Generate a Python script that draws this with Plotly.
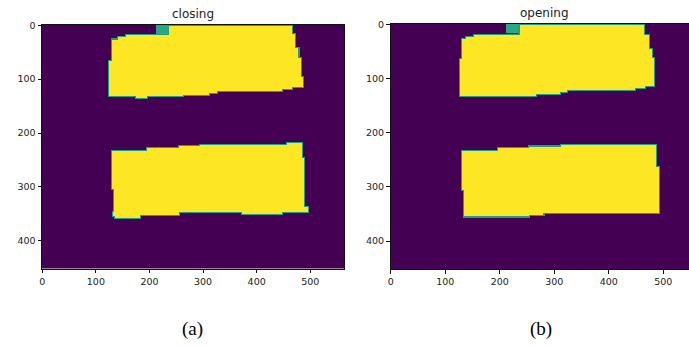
import numpy as np
import plotly.graph_objects as go

# ---------------- data ----------------
IMG_W = 564
IMG_H = 452

titles = ["closing", "opening"]
captions = ["(a)", "(b)"]
x_ticks = [0, 100, 200, 300, 400, 500]
y_ticks = [0, 100, 200, 300, 400]

# region outlines (x, y) in image pixel coordinates
closing_top = [(235, 0), (468, 0), (468, 15), (474, 15), (474, 40), (481, 40), (481, 60),
               (485, 60), (485, 95), (489, 95), (489, 116), (468, 116), (468, 121), (450, 121),
               (450, 124), (328, 124), (328, 128), (313, 128), (313, 131), (266, 131),
               (266, 133), (198, 133), (198, 137), (173, 137), (173, 133), (124, 133),
               (124, 65), (128, 65), (128, 25), (140, 25), (140, 20), (155, 20), (155, 16),
               (235, 16)]
closing_bottom = [(128, 231), (195, 231), (195, 226), (254, 226), (254, 223), (294, 223),
                  (294, 220), (456, 220), (456, 217), (488, 217), (488, 245), (492, 245),
                  (492, 335), (499, 335), (499, 348), (450, 348), (450, 352), (372, 352),
                  (372, 349), (257, 349), (257, 354), (185, 354), (185, 359), (135, 359),
                  (135, 355), (130, 355), (130, 345), (132, 345), (132, 305), (128, 305)]
opening_top = [(235, 0), (468, 0), (468, 18), (476, 18), (476, 45), (482, 45), (482, 60),
               (486, 60), (486, 116), (470, 116), (470, 120), (451, 120), (451, 123),
               (327, 123), (327, 127), (314, 127), (314, 131), (270, 131), (270, 133.5),
               (125, 133.5), (125, 63), (129, 63), (129, 24.5), (136, 24.5), (136, 22),
               (151.5, 22), (151.5, 17.5), (235, 17.5)]
opening_bottom = [(129, 231.5), (196, 231.5), (196, 227), (252, 227), (252, 224), (311, 224),
                  (311, 220.5), (490, 220.5), (490, 262), (495, 262), (495, 350), (283, 350),
                  (283, 354), (257, 354), (257, 357), (133, 357), (133, 308), (129, 308)]

# small second-label patch at the top edge: (x0, x1, y0, y1)
closing_patch = (213, 235, 0, 16)
opening_patch = (213, 235, 0, 16)

REGION_VALUE = 1.0
PATCH_VALUE = 0.6
EDGE_VALUE = 0.55

# ---------------- build masks ----------------
yy, xx = np.mgrid[0:IMG_H, 0:IMG_W].astype(float)


def poly_mask(pts):
    inside = np.zeros((IMG_H, IMG_W), dtype=bool)
    n = len(pts)
    for k in range(n):
        x1, y1 = pts[k]
        x2, y2 = pts[(k + 1) % n]
        if y1 == y2:
            continue
        cond = (yy >= min(y1, y2)) & (yy < max(y1, y2))
        xint = x1 + (yy - y1) * (x2 - x1) / (y2 - y1)
        inside ^= cond & (xx < xint)
    return inside


def erode(m, r):
    out = m.copy()
    for dy in range(-r, r + 1):
        for dx in range(-r, r + 1):
            s = np.roll(np.roll(m, dy, axis=0), dx, axis=1)
            out &= s
    return out


def build(polys, patch):
    m = np.zeros((IMG_H, IMG_W), dtype=bool)
    for p in polys:
        m |= poly_mask(p)
    z = np.where(m, REGION_VALUE, 0.0)
    ring = m & ~erode(m, 2)
    z[ring] = EDGE_VALUE
    x0, x1, y0, y1 = patch
    pm = (xx >= x0) & (xx < x1) & (yy >= y0) & (yy < y1)
    z[pm] = PATCH_VALUE
    return np.round(z, 2)


z_closing = build([closing_top, closing_bottom], closing_patch)
z_opening = build([opening_top, opening_bottom], opening_patch)

# ---------------- figure ----------------
W, H = 689, 346
fig = go.Figure()
for z, xa, ya in [(z_closing, "x", "y"), (z_opening, "x2", "y2")]:
    fig.add_trace(go.Heatmap(z=z, x0=0, dx=1, y0=0, dy=1, colorscale="Viridis",
                             zmin=0, zmax=1, showscale=False, zsmooth=False,
                             xaxis=xa, yaxis=ya, hoverinfo="skip"))

# pixel geometry of the two panels
L = dict(l=42.0, r=344.3, t=25.0, b=268.6)
R = dict(l=390.5, r=697.8, t=24.0, b=269.0)

tickfont = dict(family="DejaVu Sans", size=9.5, color="#222")
axis_common = dict(showgrid=False, zeroline=False, showline=True, linecolor="#111",
                   linewidth=1, ticks="outside", ticklen=3.5, tickwidth=0.8,
                   tickcolor="#111", tickfont=tickfont, automargin=False)

x2_end = -0.5 + (W - R["l"]) / ((R["r"] - R["l"]) / IMG_W)

fig.update_layout(
    width=W, height=H, margin=dict(l=0, r=0, t=0, b=0, pad=0, autoexpand=False),
    paper_bgcolor="white", plot_bgcolor="white", showlegend=False,
    xaxis=dict(domain=[L["l"] / W, L["r"] / W], range=[-0.5, IMG_W - 0.5],
               tickvals=x_ticks, mirror=True, anchor="y", **axis_common),
    yaxis=dict(domain=[1 - L["b"] / H, 1 - L["t"] / H], range=[IMG_H - 0.5, -0.5],
               tickvals=y_ticks, mirror=True, anchor="x", **axis_common),
    xaxis2=dict(domain=[R["l"] / W, 1.0], range=[-0.5, x2_end],
                tickvals=x_ticks, mirror=True, anchor="y2", **axis_common),
    yaxis2=dict(domain=[1 - R["b"] / H, 1 - R["t"] / H], range=[IMG_H - 0.5, -0.5],
                tickvals=y_ticks, mirror=False, anchor="x2", **axis_common),
)

annotations = []
for title, pan in zip(titles, [L, R]):
    annotations.append(dict(text=title, x=(pan["l"] + pan["r"]) / 2 / W,
                            y=1 - (pan["t"] - 2) / H, xref="paper", yref="paper",
                            xanchor="center", yanchor="bottom", showarrow=False,
                            font=dict(family="DejaVu Sans", size=12, color="#222")))
for cap, cx in zip(captions, [192, 541]):
    annotations.append(dict(text=cap, x=cx / W, y=1 - 329 / H, xref="paper", yref="paper",
                            xanchor="center", yanchor="middle", showarrow=False,
                            font=dict(family="Liberation Serif", size=19, color="black")))
fig.update_layout(annotations=annotations)

fig.write_html("out.html", config={"displayModeBar": False},
               post_script="document.body.style.margin='0';document.body.style.overflow='hidden';")
